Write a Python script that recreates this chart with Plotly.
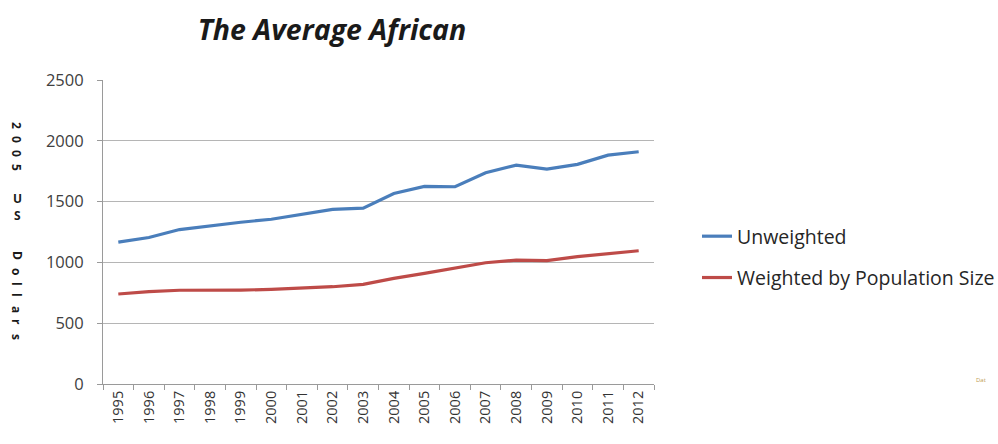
import plotly.graph_objects as go

years = ["1995", "1996", "1997", "1998", "1999", "2000", "2001", "2002", "2003",
         "2004", "2005", "2006", "2007", "2008", "2009", "2010", "2011", "2012"]
unweighted = [1167, 1205, 1270, 1303, 1330, 1355, 1395, 1436, 1446,
              1567, 1625, 1622, 1737, 1800, 1767, 1806, 1882, 1910]
weighted = [740, 759, 771, 770, 772, 778, 786, 800, 820,
            869, 910, 956, 997, 1019, 1014, 1047, 1074, 1096]
y_ticks = [0, 500, 1000, 1500, 2000, 2500]

# vertical caption, one glyph per entry: (char, pixel row, rotated)
caption_chars = ["2", "0", "0", "5", "U", "S", "D", "o", "l", "l", "a", "r", "s"]
caption_rows = [125, 139, 153, 167, 198, 215, 255, 271, 284, 295, 309, 322, 337]
caption_rotated = [True, True, True, True, False, False, True, True, True, True, True, True, True]

BLUE = "#4A7EBB"
RED = "#BE4B48"
FONT = "Open Sans"

PLOT_L, PLOT_R, PLOT_T, PLOT_B = 103, 654, 80, 384
PW, PH = PLOT_R - PLOT_L, PLOT_B - PLOT_T

fig = go.Figure()
fig.add_trace(go.Scatter(x=years, y=unweighted, mode="lines", name="Unweighted",
                         line=dict(color=BLUE, width=3.2), legendgroup="a"))
fig.add_trace(go.Scatter(x=years, y=weighted, mode="lines", name="Weighted by Population Size",
                         line=dict(color=RED, width=3.2), legendgroup="b"))

fig.update_layout(
    width=998, height=444,
    margin=dict(l=PLOT_L, r=998 - PLOT_R, t=PLOT_T, b=444 - PLOT_B, autoexpand=False),
    paper_bgcolor="white", plot_bgcolor="white",
    font=dict(family=FONT, color="#404040"),
    title=dict(text="<b><i>The Average African</i></b>", x=332 / 998, xanchor="center",
               y=1 - 30 / 444, yanchor="middle",
               font=dict(family=FONT, size=28.5, color="#1a1a1a")),
    showlegend=True,
    legend=dict(x=(697 - PLOT_L) / PW, xanchor="left", y=(PLOT_B - 257) / PH, yanchor="middle",
                font=dict(family=FONT, size=19.5, color="#262626"),
                traceorder="grouped", tracegroupgap=13,
                bgcolor="rgba(0,0,0,0)"),
    xaxis=dict(type="category", showgrid=False, showline=True, linecolor="#9a9a9a",
               linewidth=1, ticks="outside", tickson="boundaries", ticklen=5,
               tickcolor="#9a9a9a", tickangle=-90,
               tickfont=dict(family=FONT, size=14.5, color="#333333"),
               range=[-0.5, 17.5]),
    yaxis=dict(range=[0, 2500], tickvals=y_ticks, showgrid=True, gridcolor="#b5b5b5",
               gridwidth=1.3, showline=True, linecolor="#9a9a9a", linewidth=1,
               ticks="outside", ticklen=5, tickcolor="#9a9a9a", zeroline=False,
               ticklabelstandoff=10,
               tickfont=dict(family=FONT, size=16.5, color="#404040")),
)

for ch, row, rot in zip(caption_chars, caption_rows, caption_rotated):
    fig.add_annotation(text="<b>" + ch + "</b>", textangle=90 if rot else 0,
                       xref="paper", yref="paper",
                       x=(17 - PLOT_L) / PW, y=(PLOT_B - row) / PH,
                       xanchor="center", yanchor="middle", showarrow=False, borderpad=0,
                       font=dict(family=FONT, size=12, color="#1a1a1a"))

# small source tag at the lower right
fig.add_annotation(text="Dat", xref="paper", yref="paper", x=(988 - PLOT_L) / PW,
                   y=(PLOT_B - 386) / PH, showarrow=False,
                   font=dict(family=FONT, size=6, color="#c09a50"))

fig.write_html("out.html")
